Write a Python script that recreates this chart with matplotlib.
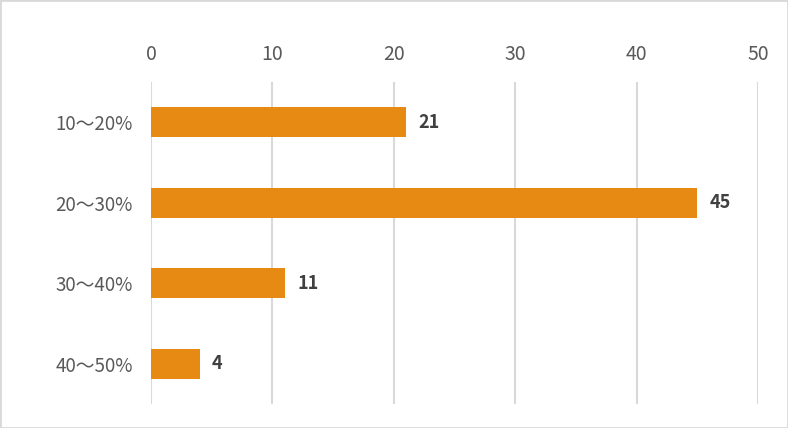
import matplotlib.pyplot as plt
from matplotlib.patches import Rectangle

plt.rcParams['font.family'] = ['Noto Sans CJK JP', 'DejaVu Sans']

# data
categories = ['10～20%', '20～30%', '30～40%', '40～50%']
counts = [21, 45, 11, 4]
x_ticks = [0, 10, 20, 30, 40, 50]

bar_color = '#E68A14'
grid_color = '#D9D9D9'
text_color = '#595959'

fig = plt.figure(figsize=(7.88, 4.28), dpi=100)
ax = fig.add_axes([151 / 788, 24 / 428, 607 / 788, 322 / 428])

y_pos = list(range(len(categories)))
ax.barh(y_pos, counts, height=0.37, color=bar_color, zorder=3)

for y, v in zip(y_pos, counts):
    ax.annotate(str(v), xy=(v, y), xytext=(9, 0), textcoords='offset points',
                ha='left', va='center', fontsize=13, fontweight='bold',
                color='#404040')

ax.set_xlim(0, 50)
ax.set_ylim(len(categories) - 0.5, -0.5)
ax.set_xticks(x_ticks)
ax.set_yticks(y_pos)
ax.set_yticklabels(categories)

ax.xaxis.tick_top()
ax.tick_params(axis='x', length=0, pad=12, labelsize=14, labelcolor=text_color)
ax.tick_params(axis='y', length=0, pad=13, labelsize=13.5, labelcolor=text_color)

ax.grid(axis='x', color=grid_color, linewidth=1.5, zorder=0)
for s in ax.spines.values():
    s.set_visible(False)

# outer border
fig.patches.append(Rectangle((0, 0), 1, 1, transform=fig.transFigure,
                             fill=False, edgecolor=grid_color, linewidth=2))

fig.savefig('out.png', dpi=100)
